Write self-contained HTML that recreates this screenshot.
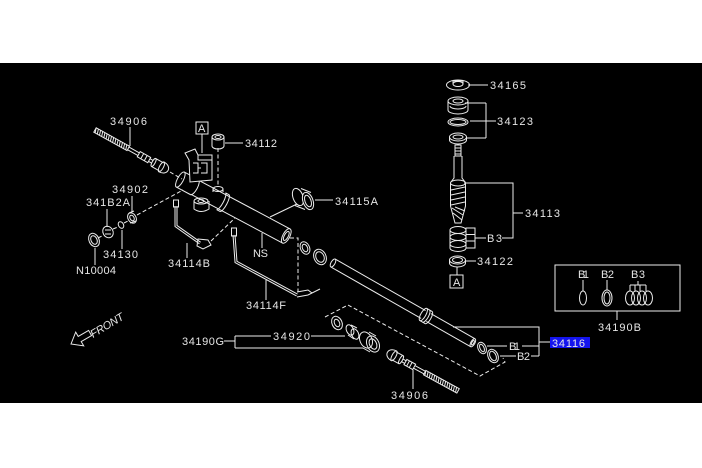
<!DOCTYPE html>
<html><head><meta charset="utf-8"><style>
html,body{margin:0;padding:0;background:#fff;}
svg{display:block}
text{font-family:"Liberation Sans",sans-serif;font-size:11px;fill:#e6e6e6;}
</style></head><body>
<svg width="702" height="468" viewBox="0 0 702 468" xmlns="http://www.w3.org/2000/svg">
<rect x="0" y="0" width="702" height="468" fill="#fff"/>
<rect x="0" y="63" width="702" height="340" fill="#000"/>

<g fill="none" stroke="#ececec" stroke-width="1">
<!-- upper tie rod 34906 -->
<g transform="translate(95,130) rotate(29)">
 <rect x="0" y="-2.5" width="38" height="5"/>
 <path d="M0 -2.5l1.5 5M2.5 -2.5l1.5 5M5 -2.5l1.5 5M7.5 -2.5l1.5 5M10 -2.5l1.5 5M12.5 -2.5l1.5 5M15 -2.5l1.5 5M17.5 -2.5l1.5 5M20 -2.5l1.5 5M22.5 -2.5l1.5 5M25 -2.5l1.5 5M27.5 -2.5l1.5 5M30 -2.5l1.5 5M32.5 -2.5l1.5 5M35 -2.5l1.5 5"/>
 <path d="M38 -1.5H50M38 1.5H50"/>
 <rect x="50" y="-3" width="12" height="6"/>
 <path d="M54 -3v6M58 -3v6"/>
 <path d="M62 -1.5H66M62 1.5H66"/>
 <ellipse cx="67" cy="0" rx="1.5" ry="4.5"/>
 <path d="M67 -4.5H76M67 4.5H76"/>
 <path d="M76 -5.5C86 -5.5 86 5.5 76 5.5"/>
 <ellipse cx="76" cy="0" rx="2" ry="5.5"/>
</g>
<!-- lower tie rod 34906 -->
<g transform="translate(387,352) rotate(28.7)">
 <path d="M8 -5.5C-2 -5.5 -2 5.5 8 5.5"/>
 <ellipse cx="8" cy="0" rx="2" ry="5.5"/>
 <path d="M8 -4.5H16M8 4.5H16"/>
 <ellipse cx="16" cy="0" rx="1.5" ry="4.5"/>
 <path d="M17 -1.5H21M17 1.5H21"/>
 <rect x="21" y="-3" width="10" height="6"/>
 <path d="M24 -3v6M27 -3v6"/>
 <path d="M31 -1.5H43M31 1.5H43"/>
 <rect x="43" y="-2.5" width="38" height="5"/>
 <path d="M43 -2.5l1.5 5M45.5 -2.5l1.5 5M48 -2.5l1.5 5M50.5 -2.5l1.5 5M53 -2.5l1.5 5M55.5 -2.5l1.5 5M58 -2.5l1.5 5M60.5 -2.5l1.5 5M63 -2.5l1.5 5M65.5 -2.5l1.5 5M68 -2.5l1.5 5M70.5 -2.5l1.5 5M73 -2.5l1.5 5M75.5 -2.5l1.5 5M78 -2.5l1.5 5"/>
</g>

<!-- main housing tube -->
<g transform="translate(198,189) rotate(28)">
 <path d="M-20 -8.5H-4M-20 8.5H-4"/>
 <ellipse cx="-20" cy="0" rx="3" ry="8.5"/>
 <path d="M-4 -8.5A3 8.5 0 0 1 -4 8.5"/>
 <path d="M-4 -8H100M-4 8H100"/>
 <ellipse cx="100" cy="0" rx="3.5" ry="8"/>
 <ellipse cx="100" cy="0" rx="2" ry="5"/>
 <path d="M26 -9.5A2.5 9.5 0 0 1 26 9.5M30 -9.5A2.5 9.5 0 0 1 30 9.5M26 -9.5H30M26 9.5H30"/>
</g>
<!-- valve body -->
<path d="M189 160L185 153L195 149L198 155L212 155L212 180L190 182Z" fill="#000"/>
<path d="M193 163H198V173H193M201 163H207V173H201M198 168H201"/>
<path d="M198 155V160H212"/>
<!-- boss under 34112 -->
<ellipse cx="218" cy="189" rx="5" ry="2.5"/>
<path d="M213 189v3M223 189v3"/>
<!-- bracket below -->
<ellipse cx="201" cy="201" rx="7" ry="3"/>
<ellipse cx="201" cy="201" rx="3" ry="1.5"/>
<path d="M194 201V209Q201 214 209 209V201"/>
<!-- 34112 bushing -->
<ellipse cx="218" cy="137" rx="6" ry="3"/>
<ellipse cx="218" cy="137" rx="3" ry="1.5"/>
<path d="M212 137V146A6 3 0 0 0 224 146V137"/>
<!-- A box upper -->
<rect x="196" y="122" width="12" height="12"/>
<path d="M202 134V153"/>

<!-- 34115A bushing -->
<path d="M270 217L297 204"/>
<ellipse cx="298" cy="197" rx="5" ry="9" transform="rotate(-20 298 197)"/>
<ellipse cx="308" cy="201" rx="5" ry="9" transform="rotate(-20 308 201)" fill="#000"/>
<ellipse cx="308" cy="201" rx="3" ry="6" transform="rotate(-20 308 201)"/>
<path d="M301 188.5L311 192.5M295 205.5L305 209.5"/>

<!-- rings between -->
<ellipse cx="305" cy="248" rx="4.5" ry="6.5" transform="rotate(-25 305 248)"/>
<ellipse cx="305" cy="248" rx="2.5" ry="4" transform="rotate(-25 305 248)"/>
<ellipse cx="320" cy="257" rx="6" ry="8" transform="rotate(-25 320 257)"/>
<ellipse cx="320" cy="257" rx="4" ry="5.5" transform="rotate(-25 320 257)"/>

<!-- inner rack tube -->
<g transform="translate(333,263) rotate(29.7)">
 <path d="M0 -4.5H104M0 4.5H104M110 -4.5H161M110 4.5H161"/>
 <ellipse cx="0" cy="0" rx="2" ry="4.5"/>
 <ellipse cx="161" cy="0" rx="2" ry="4.5"/>
 <ellipse cx="161" cy="0" rx="1" ry="2.5"/>
 <ellipse cx="104" cy="0" rx="2.5" ry="7"/>
 <path d="M104 -7H110M104 7H110M110 -7A2.5 7 0 0 1 110 7"/>
 <path d="M107 -7A2.5 7 0 0 1 107 7"/>
</g>
<!-- B1 B2 rings -->
<ellipse cx="482" cy="348" rx="4" ry="6" transform="rotate(-25 482 348)"/>
<ellipse cx="482" cy="348" rx="2" ry="4" transform="rotate(-25 482 348)"/>
<ellipse cx="493" cy="356" rx="5" ry="7" transform="rotate(-25 493 356)"/>
<ellipse cx="493" cy="356" rx="3" ry="5" transform="rotate(-25 493 356)"/>

<!-- 34920 group parts -->
<ellipse cx="337" cy="323" rx="5" ry="7" transform="rotate(-25 337 323)"/>
<ellipse cx="337" cy="323" rx="2.5" ry="4" transform="rotate(-25 337 323)"/>
<ellipse cx="350" cy="330" rx="3.5" ry="5.5" transform="rotate(-25 350 330)"/>
<ellipse cx="355" cy="334" rx="3.5" ry="5.5" transform="rotate(-25 355 334)"/>
<path d="M351 325L357 328M348 335L354 339"/>
<ellipse cx="366" cy="340" rx="6" ry="8.5" transform="rotate(-25 366 340)"/>
<ellipse cx="373" cy="344" rx="6" ry="8.5" transform="rotate(-25 373 344)"/>
<ellipse cx="373" cy="344" rx="3.5" ry="5.5" transform="rotate(-25 373 344)"/>
<path d="M369 332L376 336M363 348L370 352"/>

<!-- left small parts -->
<ellipse cx="132" cy="218" rx="4" ry="5.5" transform="rotate(-30 132 218)"/>
<ellipse cx="132" cy="218" rx="2" ry="3" transform="rotate(-30 132 218)"/>
<path d="M129 213L134 211M130 223L136 221"/>
<ellipse cx="121" cy="225" rx="2.5" ry="3.5" transform="rotate(-30 121 225)"/>
<ellipse cx="108" cy="232" rx="5" ry="6" transform="rotate(-30 108 232)"/>
<path d="M105 230H111M105 234H111"/>
<ellipse cx="94" cy="240" rx="5" ry="7" transform="rotate(-25 94 240)"/>
<ellipse cx="94" cy="240" rx="3" ry="4.5" transform="rotate(-25 94 240)"/>

<!-- pipes -->
<path d="M176 206V226L200 243" stroke-width="3"/>
<path d="M176 206V226L200 243" stroke="#000" stroke-width="1"/>
<rect x="173.5" y="200" width="5" height="7"/>
<path d="M198 239L208 240L211 245L203 249L197 246Z"/>
<path d="M234 235L236 262L297 295" stroke-width="3"/>
<path d="M234 235L236 262L297 295" stroke="#000" stroke-width="1"/>
<rect x="231.5" y="228" width="5" height="8"/>
<path d="M297 292L308 290L312 293L320 289M297 297L308 295L312 293"/>

<!-- dashed lines -->
<g stroke-dasharray="4 2.5">
 <path d="M170 172L182 179"/>
 <path d="M137 215L183 190"/>
 <path d="M98 238L104 235M113 229L118 227M124 223L128 221"/>
 <path d="M218 148V186"/>
 <path d="M211 241L235 218"/>
 <path d="M290 238H298V292"/>
 <path d="M325 317L348 305L480 376L505 362L503 358"/>
</g>

<!-- pinion assembly -->
<ellipse cx="458" cy="85" rx="11.5" ry="5"/>
<ellipse cx="458" cy="84" rx="5" ry="2.5"/>
<path d="M453 84V81H463V84"/>
<ellipse cx="458" cy="101" rx="10" ry="4"/>
<ellipse cx="458" cy="101" rx="5" ry="2"/>
<path d="M448 101V110A10 4 0 0 0 468 110V101"/>
<path d="M450 106A8 3 0 0 0 466 106"/>
<ellipse cx="458" cy="122" rx="10" ry="4"/>
<ellipse cx="458" cy="122" rx="8" ry="2.5"/>
<ellipse cx="458" cy="137" rx="8.5" ry="4"/>
<ellipse cx="458" cy="137" rx="5" ry="2"/>
<path d="M449.5 137V140A8.5 4 0 0 0 466.5 140V137"/>
<rect x="455" y="145" width="6" height="11"/>
<path d="M455 148H461M455 151H461M455 154H461"/>
<path d="M454 156V178L451 182M462 156V178L465 182"/>
<ellipse cx="458" cy="183" rx="7.5" ry="3"/>
<path d="M450.5 183V206L455 223H461L465.5 206V183"/>
<path d="M451 190L465 187M451 195L465 192M451 200L465 197M451 205L465 202M452 208L463 215M453 213L462 220M455 207L465 211"/>
<ellipse cx="458" cy="230" rx="8" ry="3.5"/>
<ellipse cx="458" cy="237" rx="8" ry="3.5"/>
<ellipse cx="458" cy="244" rx="8" ry="3.5"/>
<path d="M450 230V248A8 3.5 0 0 0 466 248V230"/>
<rect x="466" y="228" width="9" height="20"/>
<path d="M466 234.5H475M466 241H475"/>
<ellipse cx="457.5" cy="260" rx="8" ry="4"/>
<ellipse cx="457.5" cy="260" rx="5" ry="2.5"/>
<path d="M449.5 260V263A8 4 0 0 0 465.5 263V260"/>
<path d="M457 267V275"/>
<rect x="450" y="275" width="13" height="13"/>

<!-- leaders -->
<path d="M130 127V146"/>
<path d="M225 143H243"/>
<path d="M132 196V212"/>
<path d="M107 209V227"/>
<path d="M122 230V249"/>
<path d="M95 248V265"/>
<path d="M187 243V258"/>
<path d="M262 233V248"/>
<path d="M266 280V300"/>
<path d="M315 200H333"/>
<path d="M468 85H488"/>
<path d="M465 103H486M470 121H496M466 138H486M486 103V138"/>
<path d="M464 183H513V238H502M513 213H523"/>
<path d="M475 238H486"/>
<path d="M465 261H476"/>
<path d="M224 341H235M235 336V348M235 336H271M311 336H345M235 348H363"/>
<path d="M413 370V389"/>
<path d="M453 327H539V356M539 342H550M487 346H507M522 346H539M500 356H516M531 356H539"/>

<!-- 34190B box -->
<rect x="555" y="265" width="125" height="46"/>
<path d="M617 311V320"/>
<path d="M583 280V291"/>
<ellipse cx="583" cy="298" rx="3.5" ry="7"/>
<path d="M607 280V290"/>
<ellipse cx="607" cy="298" rx="5" ry="8"/>
<ellipse cx="607" cy="298" rx="3" ry="6"/>
<path d="M638 281V285M630 285H646M630 285V291M635 285V291M640 285V291M646 285V291"/>
<ellipse cx="630" cy="298" rx="4.5" ry="7"/>
<ellipse cx="636" cy="298" rx="4.5" ry="7"/>
<ellipse cx="642" cy="298" rx="4.5" ry="7"/>
<ellipse cx="648" cy="298" rx="4.5" ry="7"/>

<!-- FRONT arrow -->
<polygon points="71,344 75.7,332.1 78.2,336.4 88.6,330.4 91.6,335.6 81.2,341.6 83.7,345.9"/>
</g>

<!-- labels -->
<text x="110" y="125" textLength="37">34906</text>
<text x="245" y="147" textLength="32">34112</text>
<text x="112" y="193" textLength="36">34902</text>
<text x="86" y="206" textLength="44">341B2A</text>
<text x="335" y="205" textLength="43">34115A</text>
<text x="490" y="89" textLength="36">34165</text>
<text x="497" y="125" textLength="36">34123</text>
<text x="525" y="217" textLength="35">34113</text>
<text x="487" y="242" textLength="15">B3</text>
<text x="477" y="265" textLength="36">34122</text>
<text x="103" y="258" textLength="35">34130</text>
<text x="76" y="274" textLength="40">N10004</text>
<text x="168" y="267" textLength="42">34114B</text>
<text x="253" y="257" textLength="15">NS</text>
<text x="246" y="309" textLength="40">34114F</text>
<text x="182" y="345" textLength="42">34190G</text>
<text x="273" y="340" textLength="37">34920</text>
<text x="391" y="399" textLength="37">34906</text>
<text x="578" y="278" textLength="11">B1</text>
<text x="601" y="278" textLength="13">B2</text>
<text x="631" y="278" textLength="14">B3</text>
<text x="598" y="331" textLength="43">34190B</text>
<text x="509" y="350" textLength="11">B1</text>
<text x="517" y="360" textLength="13">B2</text>
<text x="198" y="132" font-size="10" textLength="7">A</text>
<text x="453" y="286" font-size="10" textLength="7">A</text>
<rect x="550" y="337" width="40" height="11" fill="#1414ee"/>
<text x="552" y="347" textLength="33" fill="#d0d8ff">34116</text>
<text transform="translate(93,338) rotate(-31)" font-style="italic" textLength="37">FRONT</text>
</svg>
</body></html>
